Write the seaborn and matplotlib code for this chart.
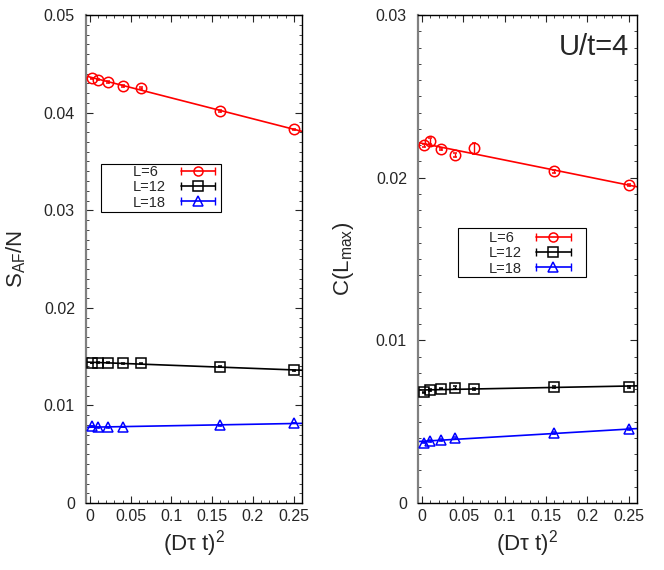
import numpy as np
import matplotlib
matplotlib.use("Agg")
import matplotlib.pyplot as plt
import seaborn as sns
from matplotlib.lines import Line2D
from matplotlib.patches import Rectangle
from matplotlib.legend_handler import HandlerTuple, HandlerLine2D
from matplotlib.ticker import MultipleLocator

# x values (D tau t)^2
x7 = [0.0025, 0.01, 0.0225, 0.04, 0.0625, 0.16, 0.25]
x6 = [0.0025, 0.01, 0.0225, 0.04, 0.16, 0.25]

# left panel: S_AF/N
saf_L6 = [0.04352, 0.04340, 0.04314, 0.04276, 0.04256, 0.04017, 0.03829]
saf_L6_err = [0.00008, 0.00008, 0.00008, 0.00008, 0.00012, 0.00008, 0.00008]
saf_L12 = [0.01435, 0.01437, 0.01437, 0.01433, 0.01432, 0.01395, 0.01360]
saf_L12_err = [0.00005, 0.00005, 0.00005, 0.00005, 0.00005, 0.00005, 0.00005]
saf_L18 = [0.00790, 0.00776, 0.00776, 0.00778, 0.00795, 0.00820]
saf_L18_err = [0.00004, 0.00004, 0.00004, 0.00004, 0.00004, 0.00004]

# right panel: C(L_max)
c_L6 = [0.02200, 0.02226, 0.02176, 0.02140, 0.02180, 0.02040, 0.01956]
c_L6_err = [0.00008, 0.00020, 0.00008, 0.00015, 0.00035, 0.00008, 0.00008]
c_L12 = [0.00680, 0.00694, 0.00704, 0.00710, 0.00702, 0.00714, 0.00715]
c_L12_err = [0.00005, 0.00005, 0.00005, 0.00008, 0.00005, 0.00005, 0.00005]
c_L18 = [0.00372, 0.00380, 0.00390, 0.00400, 0.00428, 0.00453]
c_L18_err = [0.00006, 0.00006, 0.00006, 0.00006, 0.00006, 0.00006]

# two no-break spaces = one digit, keeps the labels left aligned in the legend
labels = ["L=6\u00a0\u00a0", "L=12", "L=18"]
colors = ["#ff0000", "#000000", "#0000ff"]
markers = ["o", "s", "^"]
msizes = [7.5, 7, 7.5]

sns.set_style("ticks")
plt.rcParams['font.family'] = ['Liberation Sans', 'DejaVu Sans']
plt.rcParams['mathtext.fontset'] = 'custom'
plt.rcParams['mathtext.rm'] = 'Liberation Sans'
plt.rcParams['mathtext.it'] = 'Liberation Sans'
plt.rcParams['mathtext.default'] = 'regular'

fig = plt.figure(figsize=(6.64, 5.70), dpi=100)
axL = fig.add_axes([0.1295, 0.1175, 0.325, 0.856])
axR = fig.add_axes([0.6295, 0.1175, 0.33, 0.856])


def draw_panel(ax, series, ylim, leg_anchor, box):
    handles = []
    xgrid = np.array([-0.005, 0.26])
    for (xs, ys, es), col, mk, ms in zip(series, colors, markers, msizes):
        # linear fit line through the data
        k, b = np.polyfit(xs, ys, 1)
        sns.lineplot(x=xgrid, y=k * xgrid + b, ax=ax, color=col, lw=1.2)
        ax.errorbar(xs, ys, yerr=es, fmt=mk, color=col, mfc='none', mec=col,
                    ms=ms, mew=1.1, elinewidth=1.0, capsize=1.5, zorder=3)
        cap = Line2D([], [], color=col, lw=1.2, marker='|', ms=6)
        mark = Line2D([], [], color=col, ls='none', marker=mk, mfc='none',
                      ms=6.5, mew=1.1)
        handles.append((cap, mark))
    ax.set_xlim(-0.005, 0.26)
    ax.set_ylim(*ylim)
    ax.xaxis.set_major_locator(MultipleLocator(0.05))
    ax.xaxis.set_minor_locator(MultipleLocator(0.01))
    ax.yaxis.set_major_locator(MultipleLocator(0.01))
    ax.yaxis.set_minor_locator(MultipleLocator(0.001))
    ax.set_xticklabels(["0" if abs(v) < 1e-9 else f"{v:g}" for v in ax.get_xticks()])
    ax.set_yticklabels(["0" if abs(v) < 1e-9 else f"{v:g}" for v in ax.get_yticks()])
    ax.tick_params(which='both', direction='in', top=True, right=True, labelsize=11.5)
    ax.tick_params(which='major', length=5, width=0.8)
    ax.tick_params(which='minor', length=2.5, width=0.6)
    ax.tick_params(axis='x', which='major', pad=4)
    ax.tick_params(axis='y', which='major', pad=8)
    for s in ax.spines.values():
        s.set_linewidth(1.0)
        s.set_color('black')
    ax.spines['left'].set_color('#808080')
    ax.spines['left'].set_linewidth(1.6)
    ax.set_xlabel(r"(D$\tau$ t)$^2$", fontsize=16, labelpad=3)

    hmap = {tuple: HandlerTuple(ndivide=1, pad=0)}
    for c, m in handles:
        hmap[c] = HandlerLine2D(numpoints=2)
        hmap[m] = HandlerLine2D(numpoints=1)
    ax.legend(handles, labels, handler_map=hmap, loc='center left',
              bbox_to_anchor=leg_anchor, markerfirst=False, frameon=False,
              fontsize=10.5, handlelength=2.95, borderpad=0, labelspacing=0.08,
              handletextpad=0.7, borderaxespad=0)
    x0, y0, x1, y1 = box
    ax.add_patch(Rectangle((x0, y0), x1 - x0, y1 - y0, transform=ax.transAxes,
                           fill=False, ec='black', lw=0.8, zorder=5))


draw_panel(axL, [(x7, saf_L6, saf_L6_err), (x7, saf_L12, saf_L12_err),
                 (x6, saf_L18, saf_L18_err)], (0, 0.05),
           (0.2176, 0.647), (0.0694, 0.5963, 0.625, 0.6947))
axL.set_ylabel(r"S$_{AF}$/N", fontsize=16)
axL.yaxis.set_label_coords(-0.27, 0.5)

draw_panel(axR, [(x7, c_L6, c_L6_err), (x7, c_L12, c_L12_err),
                 (x6, c_L18, c_L18_err)], (0, 0.03),
           (0.322, 0.5117), (0.1826, 0.4631, 0.767, 0.5635))
axR.set_ylabel(r"C(L$_{max}$)", fontsize=16)
axR.yaxis.set_label_coords(-0.285, 0.5)
axR.text(0.965, 0.935, "U/t=4", transform=axR.transAxes, ha='right', va='center',
         fontsize=21)

fig.savefig("out.png", dpi=100)
